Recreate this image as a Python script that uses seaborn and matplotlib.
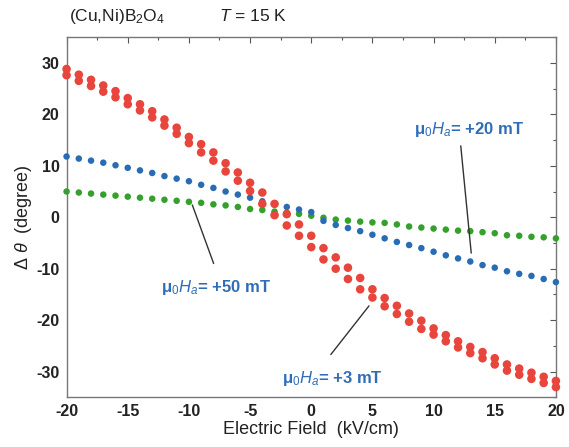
import numpy as np
import pandas as pd
import matplotlib
matplotlib.use('Agg')
import matplotlib.pyplot as plt
from matplotlib.ticker import MultipleLocator
import seaborn as sns

# electric field steps (kV/cm)
field = list(range(-20, 21))

# +3 mT, two sweeps (upper / lower dot of each pair)
h3_upper = [28.8, 27.7, 26.7, 25.6, 24.5, 23.15, 21.95, 20.6, 19.0, 17.4,
            15.6, 14.2, 12.6, 10.5, 8.7, 6.7, 4.8, 2.6, 0.6, -1.4,
            -3.6, -6.0, -7.8, -9.8, -11.8, -14.0, -15.7, -17.2, -18.7, -20.1,
            -21.6, -22.9, -24.1, -25.2, -26.2, -27.4, -28.6, -29.4, -30.2, -31.0,
            -31.8]
h3_lower = [27.6, 26.5, 25.5, 24.4, 23.3, 21.95, 20.75, 19.4, 17.8, 16.2,
            14.4, 12.6, 11.0, 8.9, 7.1, 5.1, 2.6, 0.4, -1.6, -3.6,
            -5.8, -8.2, -10.0, -12.0, -14.0, -15.6, -17.3, -18.8, -20.3, -21.7,
            -22.8, -24.1, -25.3, -26.4, -27.4, -28.6, -29.8, -30.6, -31.4, -32.2,
            -33.0]

# +20 mT
h20 = [11.8, 11.4, 11.0, 10.6, 10.1, 9.6, 9.1, 8.6, 8.0, 7.5,
       7.0, 6.3, 5.7, 5.0, 4.4, 3.8, 3.1, 2.5, 2.0, 1.5,
       1.0, -0.7, -1.5, -2.1, -2.7, -3.4, -4.1, -4.8, -5.4, -6.0,
       -6.7, -7.4, -8.0, -8.6, -9.3, -9.8, -10.5, -11.0, -11.4, -12.0,
       -12.6]

# +50 mT
h50 = [5.0, 4.8, 4.6, 4.4, 4.2, 4.0, 3.8, 3.6, 3.4, 3.2,
       3.0, 2.8, 2.5, 2.3, 2.0, 1.6, 1.4, 1.1, 0.9, 0.65,
       0.3, -0.1, -0.45, -0.65, -0.85, -1.0, -1.1, -1.4, -1.8, -2.0,
       -2.2, -2.4, -2.6, -2.7, -2.9, -3.1, -3.5, -3.6, -3.8, -3.9,
       -4.1]

red = '#e8453c'
blue = '#2a6cb4'
green = '#35a02c'
text_blue = '#2f6db8'

sns.set_style('white')
plt.rcParams['font.family'] = ['Liberation Sans', 'DejaVu Sans']
plt.rcParams['mathtext.fontset'] = 'custom'
plt.rcParams['mathtext.rm'] = 'Liberation Sans'
plt.rcParams['mathtext.it'] = 'Liberation Sans:italic'
plt.rcParams['axes.unicode_minus'] = False

fig = plt.figure(figsize=(5.69, 4.47), dpi=100)
ax = fig.add_axes([0.117, 0.111, 0.86, 0.806])

small = pd.DataFrame({'E': field * 2, 'dtheta': h50 + h20,
                      'series': ['50'] * len(field) + ['20'] * len(field)})
big = pd.DataFrame({'E': field * 2, 'dtheta': h3_upper + h3_lower,
                    'series': ['3u'] * len(field) + ['3l'] * len(field)})

sns.scatterplot(data=small, x='E', y='dtheta', hue='series',
                palette={'50': green, '20': blue}, s=22, linewidth=0,
                legend=False, ax=ax, clip_on=False, zorder=3)
sns.scatterplot(data=big, x='E', y='dtheta', hue='series',
                palette={'3u': red, '3l': red}, s=38, linewidth=0,
                legend=False, ax=ax, clip_on=False, zorder=4)

ax.set_xlim(-20, 20)
ax.set_ylim(-35, 35)
ax.xaxis.set_major_locator(MultipleLocator(5))
ax.xaxis.set_minor_locator(MultipleLocator(2.5))
ax.yaxis.set_major_locator(MultipleLocator(10))
ax.yaxis.set_minor_locator(MultipleLocator(5))
ax.tick_params(which='both', direction='in', top=True, right=True,
               color='#555555', width=0.8)
ax.tick_params(which='major', length=4, labelsize=11.5, pad=5)
ax.tick_params(which='minor', length=2)
for lab in ax.get_xticklabels() + ax.get_yticklabels():
    lab.set_fontweight('bold')
    lab.set_color('#222222')
for sp in ax.spines.values():
    sp.set_color('#777777')
    sp.set_linewidth(1.0)

ax.set_xlabel('Electric Field  (kV/cm)', fontsize=13, color='#222222', labelpad=1)
ax.set_ylabel(r'$\Delta\ \theta$  (degree)', fontsize=13, color='#222222', labelpad=2)

fig.text(0.122, 0.952, r'(Cu,Ni)B$_2$O$_4$', fontsize=12.5, color='#222222')
fig.text(0.385, 0.952, r'$T$ = 15 K', fontsize=12.5, color='#222222')

# labels with leader lines
ax.annotate('', xy=(13.1, -7.5), xytext=(12.2, 14.4),
            arrowprops=dict(arrowstyle='-', color='#333333', lw=1.0))
ax.text(12.9, 17.1, r'μ$_0$$H_a$= +20 mT', color=text_blue, fontsize=12,
        fontweight='bold', ha='center', va='center')
ax.annotate('', xy=(-9.8, 2.9), xytext=(-7.9, -9.5),
            arrowprops=dict(arrowstyle='-', color='#333333', lw=1.0))
ax.text(-7.75, -13.6, r'μ$_0$$H_a$= +50 mT', color=text_blue, fontsize=12,
        fontweight='bold', ha='center', va='center')
ax.annotate('', xy=(4.86, -16.8), xytext=(1.46, -27.1),
            arrowprops=dict(arrowstyle='-', color='#333333', lw=1.0))
ax.text(1.7, -31.3, r'μ$_0$$H_a$= +3 mT', color=text_blue, fontsize=12,
        fontweight='bold', ha='center', va='center')

fig.savefig('out.png', dpi=100)
